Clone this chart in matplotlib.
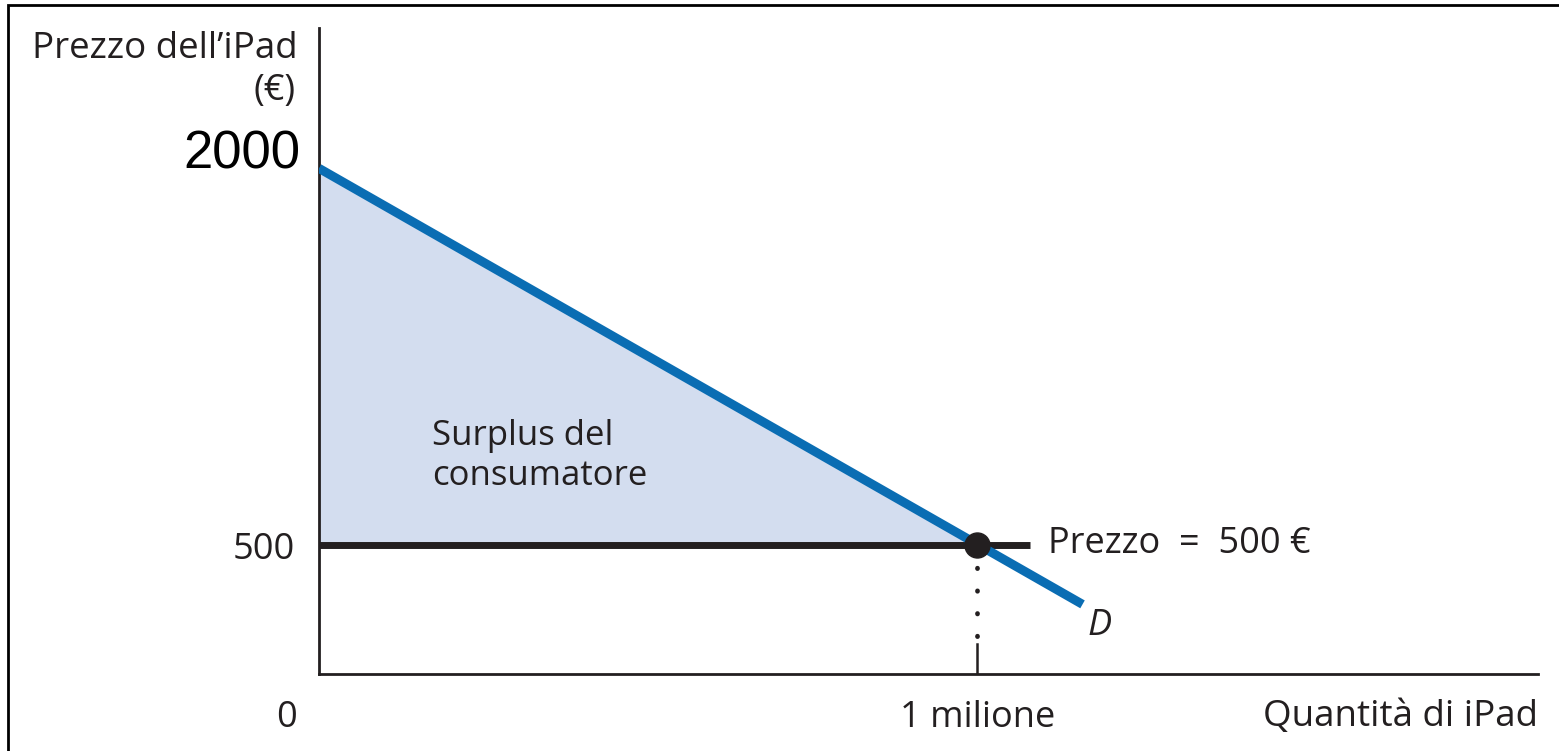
import matplotlib.pyplot as plt
import matplotlib.patches as mpatches

plt.rcParams['font.family'] = ['Open Sans', 'DejaVu Sans']

# Demand curve (quantity in millions, price in euro)
demand_q = [0.0, 1.16]
demand_p = [1960, 270]
price = 500
quantity_at_price = 1.0
price_line_q = [0.0, 1.08]
y_ticks = [500, 2000]
x_labels = ['0', '1 milione']

ink = '#231f20'
blue = '#0a6db3'
fill_col = '#d3ddef'

fig = plt.figure(figsize=(15.59, 7.51), dpi=100)
ax = fig.add_axes([319 / 1559, 77 / 751, (1538 - 319) / 1559, (674 - 28) / 751])
ax.set_xlim(0, 1.852)
ax.set_ylim(0, 2504)

# consumer surplus triangle
ax.fill_between(demand_q[:1] + [quantity_at_price], [demand_p[0], price], price,
                color=fill_col, lw=0, zorder=1)

# demand line
ax.plot(demand_q, demand_p, color=blue, lw=6.5, solid_capstyle='butt', zorder=3)

# price line
ax.plot(price_line_q, [price, price], color=ink, lw=5, solid_capstyle='butt', zorder=2)

# dotted drop line and tick
ax.plot([quantity_at_price, quantity_at_price], [price, 140], color=ink, lw=3.4,
        linestyle=(0, (0.1, 4.7)), dash_capstyle='round', zorder=2)
ax.plot([quantity_at_price, quantity_at_price], [0, 115], color=ink, lw=1.8, zorder=2)

# equilibrium point
ax.plot(quantity_at_price, price, 'o', color=ink, markersize=18, zorder=4)

for s in ['top', 'right']:
    ax.spines[s].set_visible(False)
for s in ['left', 'bottom']:
    ax.spines[s].set_linewidth(2)
    ax.spines[s].set_color(ink)
ax.set_xticks([])
ax.set_yticks([])

# labels
fs = 26
ax.text(-0.0365, y_ticks[0] - 55, '500', ha='right', va='baseline', fontsize=fs, color=ink)
ax.text(-0.029, 1961, '2000', ha='right', va='baseline', fontsize=38,
        color='black', family=['Liberation Sans', 'DejaVu Sans'])
ax.text(-0.050, -205, x_labels[0], ha='center', va='baseline', fontsize=fs, color=ink)
ax.text(quantity_at_price, -205, x_labels[1], ha='center', va='baseline', fontsize=fs, color=ink)
ax.text(1.852, -202, 'Quantità di iPad', ha='right', va='baseline', fontsize=26.5, color=ink)
ax.text(-0.033, 2388, 'Prezzo dell\u2019iPad', ha='right', va='baseline', fontsize=26.5, color=ink)
ax.text(-0.036, 2225, '(\u20ac)', ha='right', va='baseline', fontsize=fs, color=ink)
ax.text(0.1717, 888, 'Surplus del', ha='left', va='baseline', fontsize=25, color=ink)
ax.text(0.1717, 733, 'consumatore', ha='left', va='baseline', fontsize=25, color=ink)
ax.text(1.1076, 469, 'Prezzo  =  500 \u20ac', ha='left', va='baseline', fontsize=fs, color=ink)
ax.text(1.167, 151, 'D', ha='left', va='baseline', fontsize=fs, color=ink, style='italic')

# frame around the figure
fig.patches.append(mpatches.Rectangle((8 / 1559, -0.1), 1.2, 0.1 + (751 - 5) / 751,
                                      transform=fig.transFigure, fill=False,
                                      edgecolor='black', lw=2, clip_on=False))

fig.savefig('out.png', dpi=100, facecolor='white')
